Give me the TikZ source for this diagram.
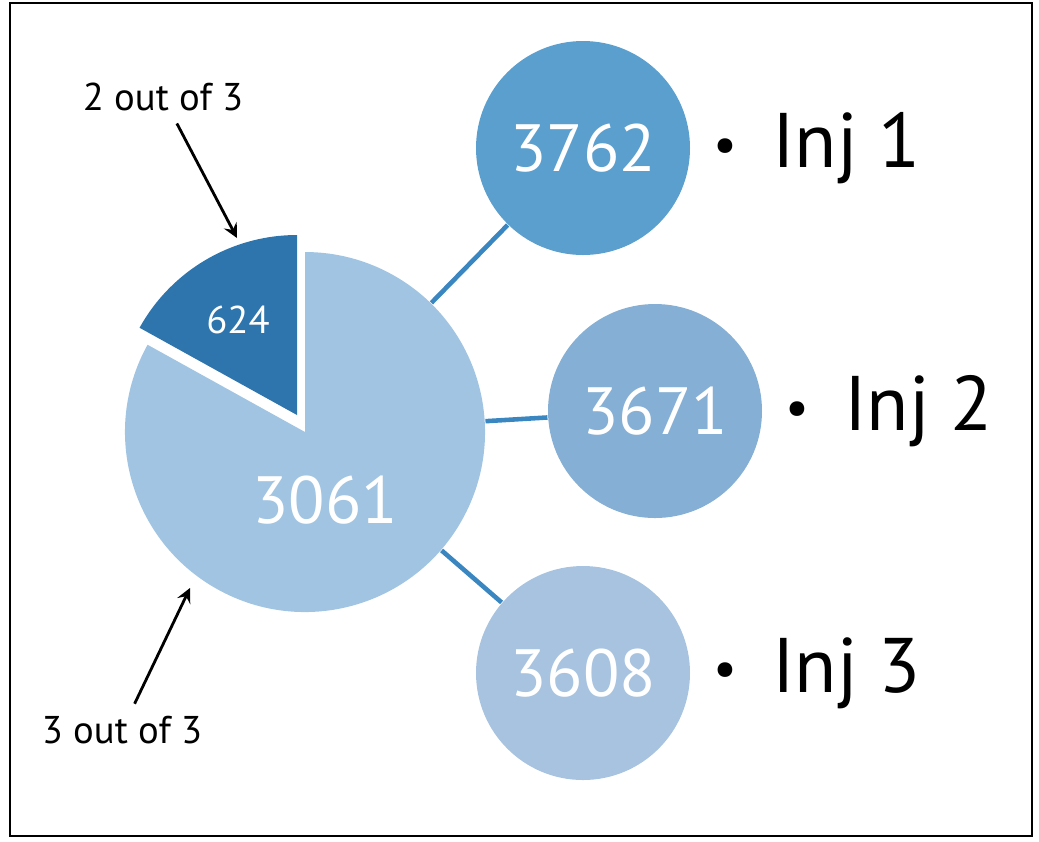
\documentclass[tikz,border=0pt]{standalone}
\usepackage{fontspec}
\setmainfont{PT Sans}
\definecolor{pielight}{HTML}{A0C4E2}
\definecolor{piedark}{HTML}{2E75AE}
\definecolor{injone}{HTML}{5B9FCF}
\definecolor{injtwo}{HTML}{85AFD4}
\definecolor{injthree}{HTML}{A7C3E0}
\definecolor{linkblue}{HTML}{3A86C0}
\newcommand{\injdot}{{\fontsize{15}{15}\selectfont\raisebox{0.1em}{•}}\hspace{0.35cm}}
\begin{document}
\begin{tikzpicture}
                        [x=0.01cm,y=-0.01cm,
                        inj/.style = {circle, minimum size = 2.14cm, inner sep=0pt,
                                    text=white, font=\fontsize{19}{19}\selectfont},
                        tag/.style = {anchor=west, inner sep=0pt, font=\fontsize{22}{22}\selectfont},
                        note/.style = {font=\fontsize{11}{11}\selectfont},
                        link/.style = {draw=linkblue, line width=1.3pt}]
                        \useasboundingbox (0,0) rectangle (1039,841);
                        \draw [line width=0.8pt] (10,3) rectangle (1032,836);
                        \node[circle, minimum size=3.6cm, inner sep=0pt] (pie) at (305,432) {};
                        \node[inj] (c1) at (583,148) {};
                        \node[inj] (c2) at (655,411) {};
                        \node[inj] (c3) at (583,673) {};
                        \draw [link] (pie) -- (c1);
                        \draw [link] (pie) -- (c2);
                        \draw [link] (pie) -- (c3);
                        \fill[pielight] (305,432) -- +(-151:180) arc[start angle=-151, end angle=-450, radius=180] -- cycle;
                        \fill[piedark] (297,415) -- +(-90:180) arc[start angle=-90, end angle=-151, radius=180] -- cycle;
                        \fill[injone] (c1) circle (107);
                        \fill[injtwo] (c2) circle (107);
                        \fill[injthree] (c3) circle (107);
                        \node[inj] at (c1) {3762};
                        \node[inj] at (c2) {3671};
                        \node[inj] at (c3) {3608};
                        \node[text=white, font=\fontsize{19}{19}\selectfont] (big) at (325,500) {3061};
                        \node[text=white, note] (small) at (238,320) {624};
                        \node[tag] (t1) at (c1.east) [xshift=0.22cm] {\injdot Inj 1};
                        \node[tag] (t2) at (c2.east) [xshift=0.22cm] {\injdot Inj 2};
                        \node[tag] (t3) at (c3.east) [xshift=0.22cm] {\injdot Inj 3};
                        \node[note] (n1) at (163,97) {2 out of 3};
                        \node[note] (n3) at (122,730) {3 out of 3};
                        \coordinate (a1) at (237,238);
                        \coordinate (a3) at (190,588);
                        \draw [-stealth, line width=0.8pt] (n1) -- (a1);
                        \draw [-stealth, line width=0.8pt] (n3) -- (a3);
                    \end{tikzpicture}
\end{document}
